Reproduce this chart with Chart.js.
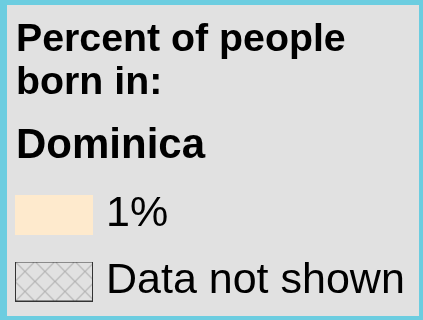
<!DOCTYPE html>
<html>
<head>
<meta charset="utf-8">
<script src="https://cdn.jsdelivr.net/npm/chart.js@4/dist/chart.umd.min.js"></script>
<style>
  html, body { margin: 0; padding: 0; }
  body { width: 423px; height: 320px; background: #6ccde0; position: relative; overflow: hidden; }
  #box { position: absolute; left: 7px; top: 5px; width: 412px; height: 311px; background: #e1e1e1; }
  canvas { display: block; }
</style>
</head>
<body>
<div id="box"><canvas id="c" width="412" height="311"></canvas></div>
<script>
// ---- data ----
const titleLines = ['Percent of people', 'born in:'];
const countryName = 'Dominica';
const categories = ['Dominica'];
const legendLabels = ['1%', 'Data not shown'];
const percentBorn = [1];
const notShown = [null];

const FONT = "'Liberation Sans', Arial, sans-serif";
const SW_W = 78, SW_H = 40;

// hatch pattern for "Data not shown"
function makeHatch() {
  const s = 20;
  const c = document.createElement('canvas');
  c.width = s; c.height = s;
  const g = c.getContext('2d');
  g.fillStyle = '#e1e1e1';
  g.fillRect(0, 0, s, s);
  g.strokeStyle = '#b3b3b3';
  g.lineWidth = 1.2;
  g.beginPath();
  g.moveTo(0, 0); g.lineTo(s, s);
  g.moveTo(s, 0); g.lineTo(0, s);
  g.stroke();
  return c.getContext('2d').createPattern(c, 'repeat');
}

// legend swatch image built from a dataset's colours
function makeSwatch(fill, stroke, width) {
  const c = document.createElement('canvas');
  c.width = SW_W; c.height = SW_H;
  const g = c.getContext('2d');
  g.fillStyle = fill;
  g.fillRect(0, 0, SW_W, SW_H);
  if (width) {
    g.strokeStyle = stroke;
    g.lineWidth = width;
    g.strokeRect(0.5, 0.5, SW_W - 1, SW_H - 1);
  }
  return c;
}

const shiftLegend = {
  id: 'shiftLegend',
  afterLayout(chart) {
    chart.legend.left = -7.5;
  }
};

new Chart(document.getElementById('c'), {
  type: 'bar',
  data: {
    labels: categories,
    datasets: [
      { label: legendLabels[0], data: percentBorn, backgroundColor: '#feeacd', borderWidth: 0 },
      { label: legendLabels[1], data: notShown, backgroundColor: makeHatch(), borderColor: '#333333', borderWidth: 1 }
    ]
  },
  plugins: [shiftLegend],
  options: {
    responsive: false,
    animation: false,
    devicePixelRatio: 1,
    layout: { padding: { left: 9, top: 0, right: 0, bottom: 0 } },
    scales: {
      x: { display: false },
      y: { display: false, min: 0, max: 100 }
    },
    plugins: {
      tooltip: { enabled: false },
      title: {
        display: true,
        text: titleLines,
        align: 'start',
        color: '#000',
        font: { family: FONT, size: 39.3, weight: 'bold', lineHeight: '43px' },
        padding: { top: 14, bottom: 10 }
      },
      subtitle: {
        display: true,
        text: countryName,
        align: 'start',
        color: '#000',
        font: { family: FONT, size: 42, weight: 'bold', lineHeight: '43px' },
        padding: { top: 10, bottom: 1 }
      },
      legend: {
        display: true,
        position: 'top',
        align: 'start',
        labels: {
          color: '#000',
          usePointStyle: true,
          pointStyleWidth: 61,
          boxWidth: 61,
          boxHeight: 40,
          padding: 24,
          font: { family: FONT, size: 43, weight: 'normal' },
          generateLabels(chart) {
            const items = Chart.defaults.plugins.legend.labels.generateLabels(chart);
            items.forEach((it, i) => {
              const ds = chart.data.datasets[i];
              it.pointStyle = makeSwatch(ds.backgroundColor, ds.borderColor, ds.borderWidth);
            });
            return items;
          }
        }
      }
    }
  }
});
</script>
</body>
</html>
